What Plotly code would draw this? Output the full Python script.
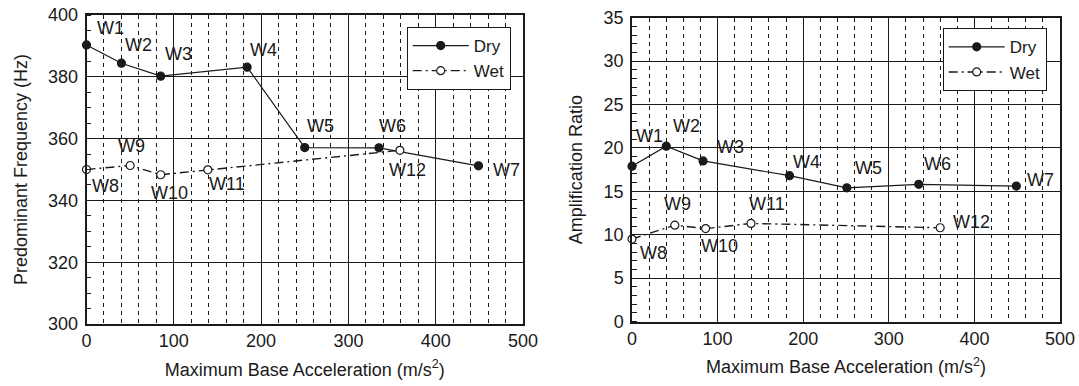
import plotly.graph_objects as go

# ---------------- data ----------------
labels_dry = ["W1", "W2", "W3", "W4", "W5", "W6", "W7"]
labels_wet = ["W8", "W9", "W10", "W11", "W12"]

# left panel: predominant frequency (Hz)
freq_dry_x = [0, 40, 85, 184, 250, 335, 449]
freq_dry_y = [390.3, 384.4, 380.2, 383.1, 357.1, 357.0, 351.2]
freq_wet_x = [0, 50, 85, 139, 359]
freq_wet_y = [350.0, 351.3, 348.3, 349.9, 356.2]

# right panel: amplification ratio
amp_dry_x = [0, 40, 83, 184, 251, 335, 449]
amp_dry_y = [17.9, 20.2, 18.5, 16.8, 15.4, 15.8, 15.6]
amp_wet_x = [0, 50, 86, 139, 360]
amp_wet_y = [9.5, 11.1, 10.7, 11.3, 10.8]

x_ticks = [0, 100, 200, 300, 400, 500]
freq_ticks = [300, 320, 340, 360, 380, 400]
amp_ticks = [0, 5, 10, 15, 20, 25, 30, 35]

# label offsets in pixels (dx, dy up)
off_freq_dry = [(24, 17), (17, 18), (18, 22), (16, 17), (16, 22), (14, 22), (28, -4)]
off_freq_wet = [(19, -16), (1, 19), (9, -18), (19, -14), (8, -20)]
off_amp_dry = [(17, 30), (20, 20), (27, 14), (17, 14), (22, 20), (19, 20), (24, 6)]
off_amp_wet = [(21, -14), (3, 21), (14, -17), (16, 19), (31, 6)]

FONT = "Liberation Sans, Arial, Helvetica, sans-serif"
INK = "#1a1a1a"
FS = 18
W, H = 1079, 386

fig = go.Figure()

def add_series(x, y, name, filled, xa, ya, legend):
    fig.add_trace(go.Scatter(
        x=x, y=y, mode="lines+markers", name=name,
        xaxis=xa, yaxis=ya, legend=legend, showlegend=True,
        line=dict(color=INK, width=1.2 if filled else 1.4,
                  dash="solid" if filled else "9px,4px,2px,4px"),
        marker=dict(symbol="circle", size=8,
                    color=INK if filled else "white",
                    line=dict(color=INK, width=1.2)),
        cliponaxis=False,
    ))

add_series(freq_dry_x, freq_dry_y, "Dry", True, "x", "y", "legend")
add_series(freq_wet_x, freq_wet_y, "Wet", False, "x", "y", "legend")
add_series(amp_dry_x, amp_dry_y, "Dry", True, "x2", "y2", "legend2")
add_series(amp_wet_x, amp_wet_y, "Wet", False, "x2", "y2", "legend2")

# point labels
def add_labels(xs, ys, labs, offs, xr, yr):
    for xv, yv, t, (dx, dy) in zip(xs, ys, labs, offs):
        fig.add_annotation(x=xv, y=yv, xref=xr, yref=yr, text=t, showarrow=False,
                           xshift=dx, yshift=dy, font=dict(family=FONT, size=FS, color=INK))

add_labels(freq_dry_x, freq_dry_y, labels_dry, off_freq_dry, "x", "y")
add_labels(freq_wet_x, freq_wet_y, labels_wet, off_freq_wet, "x", "y")
add_labels(amp_dry_x, amp_dry_y, labels_dry, off_amp_dry, "x2", "y2")
add_labels(amp_wet_x, amp_wet_y, labels_wet, off_amp_wet, "x2", "y2")

def xaxis(domain, anchor):
    return dict(domain=domain, anchor=anchor, range=[0, 500], tickvals=x_ticks,
                automargin=False,
                showgrid=True, gridcolor=INK, gridwidth=1,
                showline=True, linecolor=INK, linewidth=1.5, mirror=True,
                ticks="", zeroline=False,
                minor=dict(dtick=20, showgrid=True, gridcolor=INK, griddash="4px,4px",
                           gridwidth=1, ticks=""),
                tickfont=dict(family=FONT, size=FS, color=INK),
                title=dict(text="Maximum Base Acceleration (m/s<sup>2</sup>)",
                           font=dict(family=FONT, size=FS, color=INK), standoff=13))

def yaxis(domain, anchor, rng, ticks, minor_dt, title):
    return dict(domain=domain, anchor=anchor, range=rng, tickvals=ticks,
                automargin=False,
                showgrid=True, gridcolor=INK, gridwidth=1,
                showline=True, linecolor=INK, linewidth=1.5, mirror=True,
                ticks="", zeroline=False, ticklabelstandoff=3,
                minor=dict(dtick=minor_dt, showgrid=False, ticks="inside",
                           ticklen=5, tickcolor=INK, tickwidth=1),
                tickfont=dict(family=FONT, size=FS, color=INK),
                title=dict(text=title, font=dict(family=FONT, size=FS, color=INK),
                           standoff=16))

xd1 = [86.5 / W, 523 / W]
yd1 = [(H - 324) / H, (H - 15) / H]
xd2 = [632 / W, 1060 / W]
yd2 = [(H - 321.5) / H, (H - 17.7) / H]

legend_style = dict(bordercolor=INK, borderwidth=1, bgcolor="white",
                    font=dict(family=FONT, size=17, color=INK),
                    xanchor="left", yanchor="top", itemwidth=56,
                    tracegroupgap=0)

fig.update_layout(
    width=W, height=H, margin=dict(l=0, r=0, t=0, b=0),
    paper_bgcolor="white", plot_bgcolor="white",
    font=dict(family=FONT, size=FS, color=INK),
    xaxis=xaxis(xd1, "y"),
    yaxis=yaxis(yd1, "x", [300, 400], freq_ticks, 5, "Predominant Frequency (Hz)"),
    xaxis2=xaxis(xd2, "y2"),
    yaxis2=yaxis(yd2, "x2", [0, 35], amp_ticks, 1, "Amplification Ratio"),
    legend=dict(x=406.7 / W, y=(H - 27) / H, **legend_style),
    legend2=dict(x=942.7 / W, y=(H - 28.3) / H, **legend_style),
)

fig.write_html("out.html")
